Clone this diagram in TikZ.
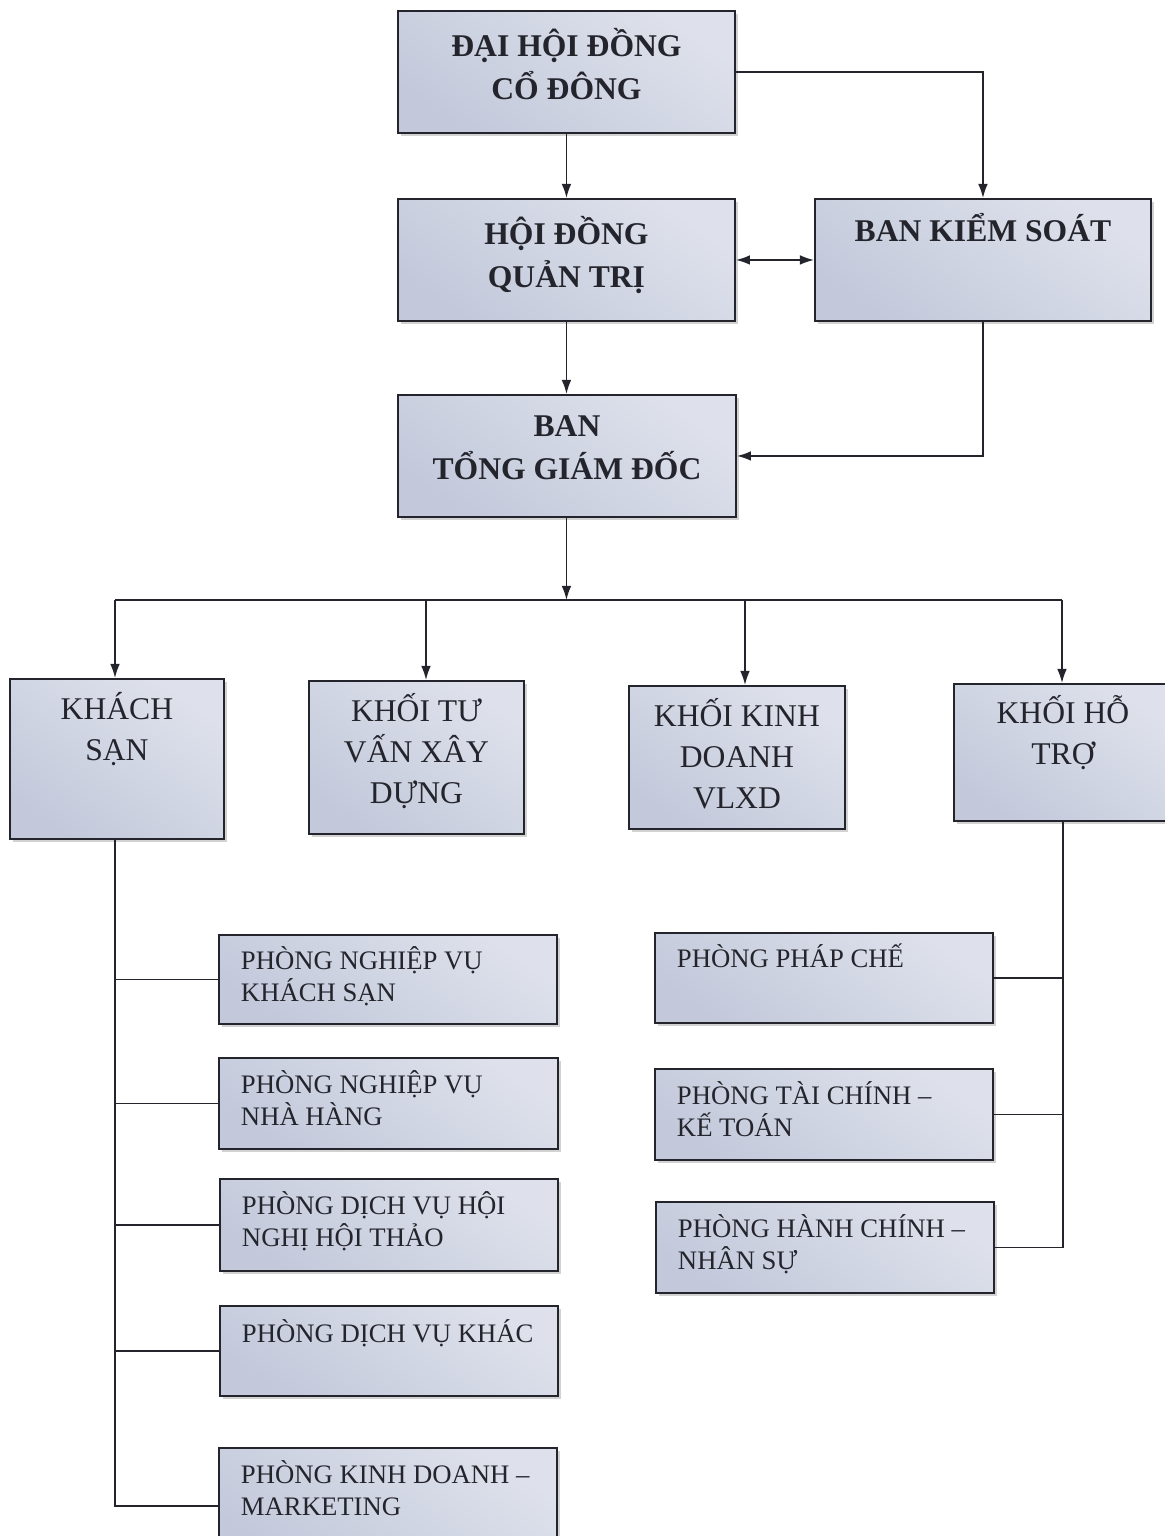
\documentclass[tikz,border=0pt]{standalone}
\usepackage{fontspec}
\setmainfont{Liberation Serif}
\usetikzlibrary{arrows.meta,shadows}

\definecolor{inkgray}{HTML}{24242C}
\definecolor{boxshade}{HTML}{C3C9DB}
\newlength\pxl \setlength\pxl{0.02cm}

% fonts of the three box levels
\newcommand\topfont{\fontsize{18}{24.4}\selectfont\bfseries\centering}
\newcommand\midfont{\fontsize{18}{23.2}\selectfont\centering}
\newcommand\subfont{\fontsize{15.2}{18.1}\selectfont\raggedright\leftskip=22\pxl}

\tikzset{
  box/.style={draw=inkgray, line width=1.1pt, text=inkgray, inner sep=0pt,
    anchor=north west, top color=boxshade!55!white, middle color=white,
    bottom color=boxshade, shading angle=-35,
    drop shadow={shadow xshift=1.6pt, shadow yshift=-1.6pt, fill=gray!70, opacity=0.5}},
  link/.style={draw=inkgray, line width=0.9pt},
  arr/.style={link, -{Latex[length=8pt,width=5.5pt]}},
}

% name, x, y, width, height, first baseline, font, text
\newcommand\mybox[8]{\node[box] (#1) at (#2,#3) {\parbox[c][#5\pxl][t]{#4\pxl}{#7\rule{0pt}{#6\pxl}#8}};}

\begin{document}
\begin{tikzpicture}[x=0.02cm, y=-0.02cm]
    \useasboundingbox (0,0) rectangle (1165,1536);

    % top level
    \mybox{dh}{397}{10}{337}{122}{46}{\topfont}{ĐẠI HỘI ĐỒNG\\CỔ ĐÔNG}
    \mybox{hd}{397}{198}{337}{122}{46}{\topfont}{HỘI ĐỒNG\\QUẢN TRỊ}
    \mybox{bks}{814}{198}{336}{122}{43}{\topfont}{BAN KIỂM SOÁT}
    \mybox{tgd}{397}{394}{338}{122}{42}{\topfont}{BAN\\TỔNG GIÁM ĐỐC}

    \draw [arr] (dh.south) -- (hd.north);
    \draw [arr] (dh.east) -| (bks.north);
    \draw [arr, {Latex[length=8pt,width=5.5pt]}-{Latex[length=8pt,width=5.5pt]}] (hd.east) -- (bks.west);
    \draw [arr] (hd.south) -- (hd.south |- tgd.north);
    \draw [arr] (bks.south) |- (tgd.east);

    % bus to the four blocks
    \coordinate (b1) at (115,600);
    \coordinate (b2) at (426,600);
    \coordinate (b3) at (745,600);
    \coordinate (b4) at (1062,600);
    \draw [arr] (hd.south |- tgd.south) -- (hd.south |- b1);
    \draw [link] (b1) -- (b4);

    % blocks
    \mybox{ks}{9}{678}{214}{160}{41}{\midfont}{KHÁCH\\SẠN}
    \mybox{tv}{308}{680}{215}{153}{41}{\midfont}{KHỐI TƯ\\VẤN XÂY\\DỰNG}
    \mybox{kd}{628}{685}{216}{143}{41}{\midfont}{KHỐI KINH\\DOANH\\VLXD}
    \mybox{ht}{953}{683}{218}{137}{40}{\midfont}{KHỐI HỖ\\TRỢ}

    \draw [arr] (b1) -- (b1 |- ks.north);
    \draw [arr] (b2) -- (b2 |- tv.north);
    \draw [arr] (b3) -- (b3 |- kd.north);
    \draw [arr] (b4) -- (b4 |- ht.north);

    % hotel departments
    \mybox{s1}{218}{934}{338}{89}{35}{\subfont}{PHÒNG NGHIỆP VỤ\\KHÁCH SẠN}
    \mybox{s2}{218}{1057}{339}{91}{36}{\subfont}{PHÒNG NGHIỆP VỤ\\NHÀ HÀNG}
    \mybox{s3}{219}{1178}{338}{92}{36}{\subfont}{PHÒNG DỊCH VỤ HỘI\\NGHỊ HỘI THẢO}
    \mybox{s4}{219}{1305}{338}{90}{37}{\subfont}{PHÒNG DỊCH VỤ KHÁC}
    \mybox{s5}{218}{1447}{338}{116}{36}{\subfont}{PHÒNG KINH DOANH –\\MARKETING}

    \draw [link] (b1 |- ks.south) |- (s5.west);
    \foreach \s in {s1,s2,s3,s4}
        \draw [link] (b1 |- \s.west) -- (\s.west);

    % support departments
    \mybox{r1}{654}{932}{338}{90}{35}{\subfont}{PHÒNG PHÁP CHẾ}
    \mybox{r2}{654}{1068}{338}{91}{36}{\subfont}{PHÒNG TÀI CHÍNH –\\KẾ TOÁN}
    \mybox{r3}{655}{1201}{338}{91}{36}{\subfont}{PHÒNG HÀNH CHÍNH –\\NHÂN SỰ}

    \draw [link] (ht.south) |- (r3.east);
    \foreach \r in {r1,r2}
        \draw [link] (ht.south |- \r.east) -- (\r.east);
\end{tikzpicture}
\end{document}
